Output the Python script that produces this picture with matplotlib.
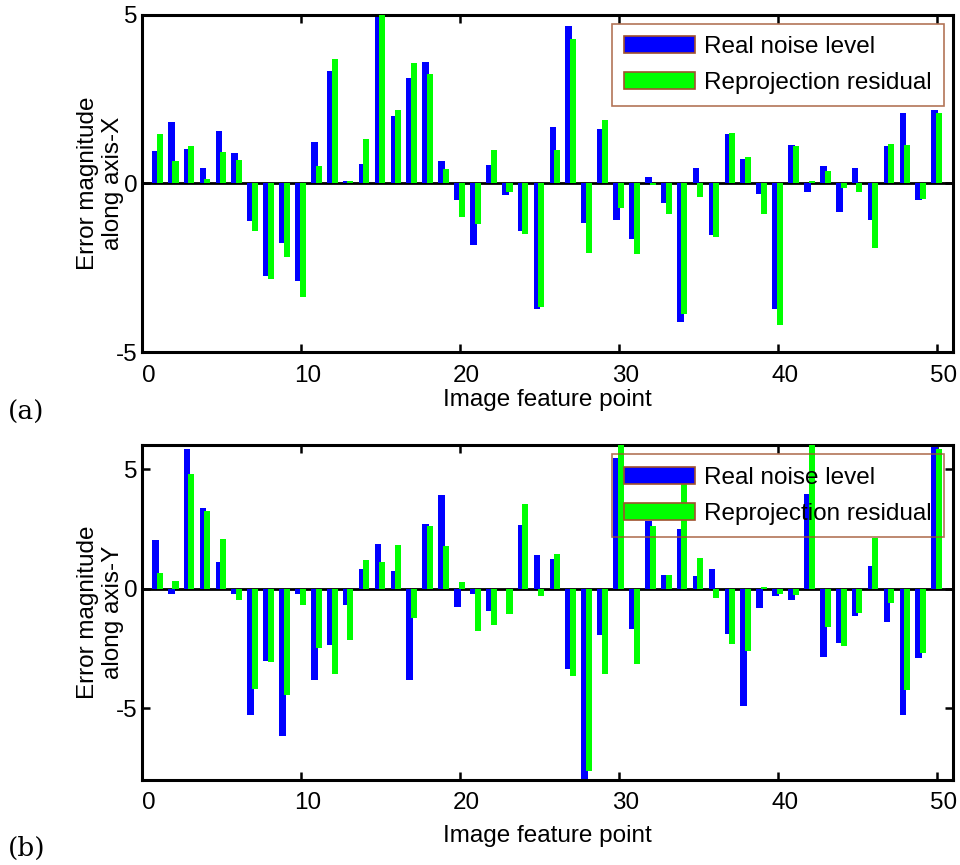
import matplotlib
matplotlib.use('Agg')
import matplotlib.pyplot as plt
from matplotlib.transforms import ScaledTranslation
import numpy as np

plt.rcParams['font.family'] = ['Liberation Sans', 'DejaVu Sans']
plt.rcParams['axes.unicode_minus'] = False

points = np.arange(1, 51)

# error along axis-X
noise_x = [0.96, 1.81, 1.02, 0.46, 1.55, 0.89, -1.11, -2.74, -1.78, -2.89,
           1.24, 3.32, 0.07, 0.56, 4.94, 2.01, 3.12, 3.61, 0.65, -0.49,
           -1.84, 0.55, -0.35, -1.41, -3.73, 1.67, 4.68, -1.18, 1.61, -1.08,
           -1.65, 0.19, -0.59, -4.10, 0.46, -1.53, 1.47, 0.71, -0.30, -3.71,
           1.14, -0.25, 0.52, -0.86, 0.46, -1.08, 1.12, 2.10, -0.49, 2.18]
resid_x = [1.45, 0.65, 1.12, 0.14, 0.93, 0.70, -1.41, -2.83, -2.18, -3.38,
           0.53, 3.68, 0.06, 1.32, 5.00, 2.17, 3.58, 3.24, 0.42, -0.99,
           -1.19, 0.98, -0.25, -1.50, -3.67, 0.98, 4.28, -2.07, 1.88, -0.72,
           -2.10, -0.05, -0.91, -3.87, -0.39, -1.58, 1.50, 0.79, -0.91, -4.20,
           1.11, 0.06, 0.36, -0.15, -0.25, -1.91, 1.17, 1.14, -0.47, 2.10]

# error along axis-Y
noise_y = [2.04, -0.24, 5.83, 3.38, 1.10, -0.24, -5.28, -3.01, -6.18, -0.24,
           -3.82, -2.36, -0.67, 0.81, 1.86, 0.76, -3.82, 2.71, 3.92, -0.76,
           -0.21, -0.93, -0.02, 2.65, 1.39, 1.25, -3.35, -8.20, -1.94, 5.46,
           -1.69, 2.85, 0.57, 2.50, 0.53, 0.81, -1.88, -4.89, -0.79, -0.32,
           -0.49, 3.96, -2.85, -2.26, -1.15, 0.96, -1.39, -5.28, -2.89, 6.20]
resid_y = [0.67, 0.32, 4.79, 3.24, 2.07, -0.49, -4.19, -3.06, -4.44, -0.67,
           -2.46, -3.58, -2.13, 1.21, 1.10, 1.83, -1.21, 2.64, 1.78, 0.28,
           -1.75, -1.50, -1.07, 3.54, -0.29, 1.46, -3.64, -7.64, -3.58, 6.30,
           -3.15, 2.64, 0.57, 5.05, 1.29, -0.38, -2.32, -2.61, 0.07, -0.21,
           -0.28, 6.40, -1.60, -2.40, -1.01, 2.11, -0.58, -4.24, -2.68, 5.85]

brown = '#a0522d'
fs = 17.5

fig = plt.figure(figsize=(9.6, 8.65), dpi=100)
ax1 = fig.add_axes([0.148, 0.593, 0.845, 0.390])
ax2 = fig.add_axes([0.148, 0.0983, 0.845, 0.387])


def draw(ax, noise, resid, ylim, ylab):
    ax.bar(points - 0.17, noise, width=0.42, color='#0000ff',
           edgecolor='none', label='Real noise level', zorder=2)
    ax.bar(points + 0.10, resid, width=0.38, color='#00ff00',
           edgecolor='none', label='Reprojection residual', zorder=3)
    ax.axhline(0, color='black', lw=2, zorder=1)
    ax.set_xlim(0, 51)
    ax.set_ylim(*ylim)
    ax.set_xticks([0, 10, 20, 30, 40, 50])
    ax.set_yticks([-5, 0, 5])
    ax.tick_params(direction='in', length=6, width=1.8, top=True, right=True,
                   labelsize=fs)
    ax.tick_params(axis='x', pad=9)
    ax.tick_params(axis='y', pad=3)
    # matlab puts the x tick labels a little to the right
    shift = ScaledTranslation(4.5 / 72, 0, fig.dpi_scale_trans)
    for lab in ax.get_xticklabels():
        lab.set_transform(lab.get_transform() + shift)
    for s in ax.spines.values():
        s.set_linewidth(2.2)
    ax.set_ylabel(ylab, fontsize=fs)
    ax.yaxis.set_label_coords(-0.022, 0.5)
    ax.set_xlabel('Image feature point', fontsize=fs)
    leg = ax.legend(loc='upper right', fontsize=fs, frameon=True,
                    facecolor='none', edgecolor=brown, fancybox=False,
                    handlelength=2.9, handleheight=0.7, handletextpad=0.4,
                    labelspacing=0.58, borderpad=0.5, borderaxespad=0.38)
    leg.get_frame().set_linewidth(1.2)
    for h in leg.legend_handles:
        h.set_edgecolor(brown)
        h.set_linewidth(1.2)


draw(ax1, noise_x, resid_x, (-5, 5), 'Error magnitude\nalong axis-X')
draw(ax2, noise_y, resid_y, (-8, 6), 'Error magnitude\nalong axis-Y')
ax1.xaxis.set_label_coords(0.5, -0.11)
ax2.xaxis.set_label_coords(0.5, -0.135)

fig.text(0.008, 1 - 412 / 865, '(a)', family='DejaVu Serif', fontsize=19,
         va='center', ha='left')
fig.text(0.008, 1 - 848 / 865, '(b)', family='DejaVu Serif', fontsize=19,
         va='center', ha='left')

fig.savefig('out.png', dpi=100)
